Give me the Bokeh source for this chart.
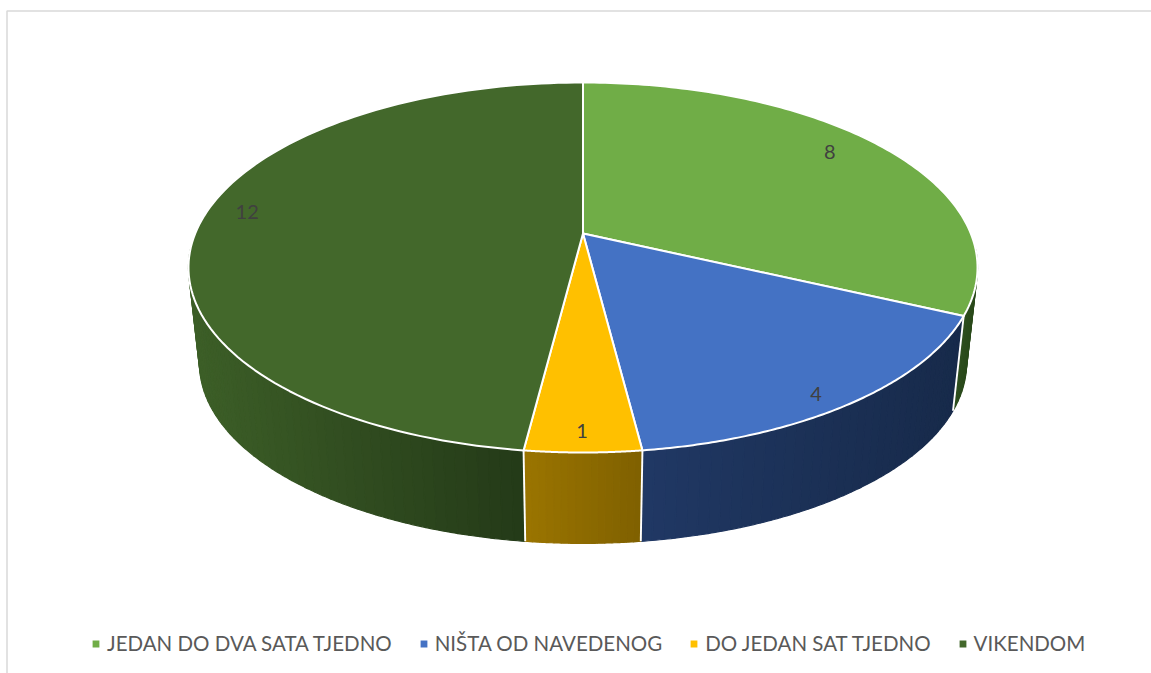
import numpy as np
from bokeh.plotting import figure
from bokeh.models import Range1d, Legend, LegendItem
from bokeh.core.properties import value
from bokeh.embed import file_html
from bokeh.resources import INLINE

categories = ["JEDAN DO DVA SATA TJEDNO", "NIŠTA OD NAVEDENOG", "DO JEDAN SAT TJEDNO", "VIKENDOM"]
values = [8, 4, 1, 12]
top_colors = ["#70AD47", "#4472C4", "#FFC000", "#43682B"]
side_left = ["#2f4f1f", "#203864", "#9b7500", "#3c5e27"]
side_right = ["#2a4a1b", "#172a4a", "#7f6000", "#243a18"]
label_offsets = [(4, -10), (26, 29), (-1, 30), (-29, -13)]

W, H = 1151, 673
CX = 582.5
TOP_Y, BOTTOM_Y = 233.0, 330.0
K, A, B = 0.1838, 178.75, 387.8
DEPTH_SCALE = 0.972


def project(theta, r=1.0, cy=TOP_Y, s=1.0):
    u, v = r * np.sin(theta), r * np.cos(theta)
    d = 1 + K * v
    return CX + s * B * u / d, cy - s * A * v / d


p = figure(width=W, height=H, output_backend="svg", toolbar_location=None,
           x_range=Range1d(0, W), y_range=Range1d(H, 0), min_border=0,
           outline_line_color=None, background_fill_color="white")
p.xaxis.visible = False
p.yaxis.visible = False
p.grid.visible = False

# chart-area frame
p.line([6.5, 6.5, W], [H, 10.5, 10.5], line_color="#d9d9d9", line_width=1.5)

fractions = np.cumsum([0] + values) / sum(values) * 2 * np.pi

# side wall: gradient strips (front-facing part only)
strips = []
for i in range(len(values)):
    c0 = np.array([int(side_left[i][j:j + 2], 16) for j in (1, 3, 5)], float)
    c1 = np.array([int(side_right[i][j:j + 2], 16) for j in (1, 3, 5)], float)
    n = max(16, int(values[i] * 10))
    ts = np.linspace(fractions[i], fractions[i + 1], n + 1)
    for a, b in zip(ts[:-1], ts[1:]):
        if np.cos((a + b) / 2) < -0.1:
            strips.append((np.cos((a + b) / 2), np.linspace(a, b, 4), c0, c1, i))

for _, t, c0, c1, i in sorted(strips, key=lambda s: -s[0]):
    xt, yt = project(t)
    xb, yb = project(t, cy=BOTTOM_Y, s=DEPTH_SCALE)
    vis0 = max(fractions[i], np.pi / 2)
    vis1 = min(fractions[i + 1], 1.5 * np.pi)
    if vis1 > vis0:
        x0, x1 = project(vis1)[0], project(vis0)[0]
        f = np.clip((xt.mean() - x0) / max(x1 - x0, 1), 0, 1)
    else:
        f = 0.5
    col = c0 + (c1 - c0) * f
    hexcol = "#%02x%02x%02x" % tuple(int(round(c)) for c in col)
    p.patch(np.concatenate([xt, xb[::-1]]), np.concatenate([yt, yb[::-1]]),
            fill_color=hexcol, line_color=hexcol, line_width=1.2)

# white seams between front-facing side walls
for th in fractions[1:-1]:
    xt, yt = project(th)
    xb, yb = project(th, cy=BOTTOM_Y, s=DEPTH_SCALE)
    p.line([xt, xb], [yt, yb], line_color="white", line_width=1.9)

# top faces
renderers = []
for i in range(len(values)):
    t = np.linspace(fractions[i], fractions[i + 1], 120)
    x, y = project(t)
    ax, ay = project(0.0, r=0.0)
    r = p.patch(np.r_[ax, x], np.r_[ay, y], fill_color=top_colors[i],
                line_color="white", line_width=2.0, line_join="round")
    renderers.append(r)

# data labels
mids = (fractions[:-1] + fractions[1:]) / 2
lx, ly = project(mids, r=0.8)
lx = lx + np.array([o[0] for o in label_offsets])
ly = ly + np.array([o[1] for o in label_offsets])
p.text(lx, ly, text=[str(v) for v in values], text_font=value("Lato"),
       text_font_size="20px", text_color="#404040",
       text_align="center", text_baseline="middle")

legend = Legend(
    items=[LegendItem(label=c, renderers=[r]) for c, r in zip(categories, renderers)],
    orientation="horizontal", location=(90, 18),
    label_text_font="Lato", label_text_font_size="20.5px", label_text_color="#595959",
    glyph_width=11, glyph_height=11, label_standoff=6, spacing=26,
    padding=0, margin=0, border_line_color=None, background_fill_alpha=0,
)
p.add_layout(legend, "center")

open("out.html", "w").write(file_html(p, INLINE))
